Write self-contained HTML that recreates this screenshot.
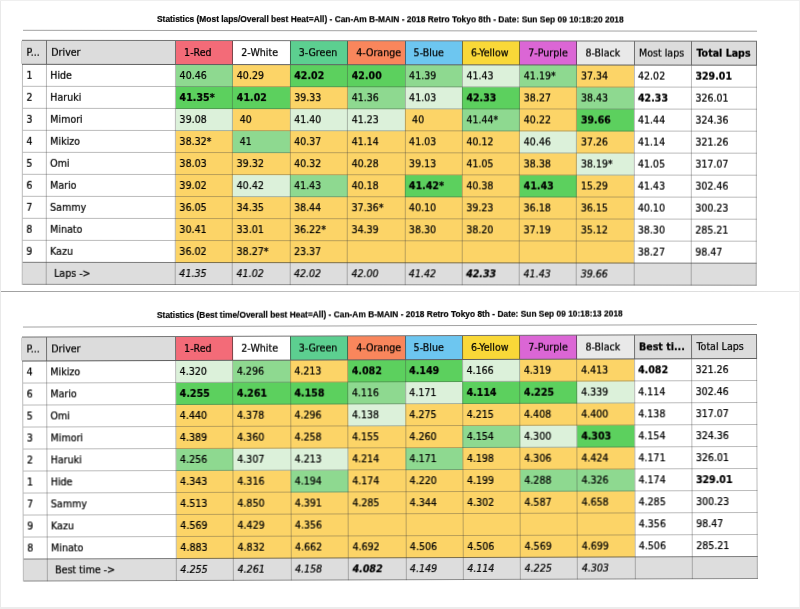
<!DOCTYPE html><html><head><meta charset="utf-8"><title>Statistics</title><style>
html,body{margin:0;padding:0;background:#fff;}
body{width:800px;height:609px;position:relative;overflow:hidden;font-family:"DejaVu Sans","Liberation Sans",sans-serif;color:#000;}
.sec{position:absolute;left:0;width:800px;height:292px;filter:blur(0.22px);transform-origin:180px 40px;}
.title{position:absolute;left:157px;top:14.2px;white-space:nowrap;transform:scaleX(0.931);transform-origin:0 0;font:bold 9px "Liberation Sans",Arial,sans-serif;color:#000;-webkit-text-stroke:0.2px #000;}
.rule{position:absolute;left:22.5px;top:30px;width:734px;height:1px;background:#a2a2a2;}
.c{position:absolute;box-sizing:border-box;white-space:nowrap;overflow:hidden;font-size:9.5px;line-height:22px;padding-left:4px;-webkit-text-stroke:0.22px #000;}
.h{line-height:24px;padding-left:5px;padding-top:0.6px;}
.hc{padding-left:8.5px;}
.h0{padding-left:5px;}
.f.lab{padding-left:8px;}
.c span{display:inline-block;transform:scaleY(1.05);transform-origin:50% 60%;}
.b{font-weight:bold;}
.i{font-style:italic;}
.hl{position:absolute;height:1px;background:rgba(60,60,60,0.35);}
.vl{position:absolute;width:1px;background:rgba(60,60,60,0.35);}
.vh{position:absolute;width:1px;background:rgba(40,40,40,0.6);}
.vh0{background:rgba(120,120,120,0.35);}
.hb{position:absolute;background:rgba(40,40,40,0.65);}
.fb{position:absolute;background:rgba(60,60,60,0.5);}
.hb2{position:absolute;background:rgba(40,40,40,0.75);}
.edge{position:absolute;}
</style></head><body>
<div class="sec" style="top:0px;transform:rotate(0.07deg)">
<div class="title">Statistics (Most laps/Overall best Heat=All) - Can-Am B-MAIN - 2018 Retro Tokyo 8th - Date: Sun Sep 09 10:18:20 2018</div>
<div class="rule"></div>
<div class="c h h0" style="left:21.50px;top:40.70px;width:24.80px;height:23.80px;background:#dcdcdc;"><span>P...</span></div>
<div class="c h" style="left:46.30px;top:40.70px;width:129.30px;height:23.80px;background:#dcdcdc;"><span>Driver</span></div>
<div class="c h hc" style="left:175.60px;top:40.70px;width:57.20px;height:23.80px;background:#f36b78;"><span>1-Red</span></div>
<div class="c h hc" style="left:232.80px;top:40.70px;width:57.40px;height:23.80px;background:#ffffff;"><span>2-White</span></div>
<div class="c h hc" style="left:290.20px;top:40.70px;width:57.50px;height:23.80px;background:#5ccf90;"><span>3-Green</span></div>
<div class="c h hc" style="left:347.70px;top:40.70px;width:57.40px;height:23.80px;background:#f9865c;"><span>4-Orange</span></div>
<div class="c h hc" style="left:405.10px;top:40.70px;width:57.30px;height:23.80px;background:#6dc6f0;"><span>5-Blue</span></div>
<div class="c h hc" style="left:462.40px;top:40.70px;width:57.40px;height:23.80px;background:#f9d838;"><span>6-Yellow</span></div>
<div class="c h hc" style="left:519.80px;top:40.70px;width:57.10px;height:23.80px;background:#db66d5;"><span>7-Purple</span></div>
<div class="c h hc" style="left:576.90px;top:40.70px;width:57.10px;height:23.80px;background:#e9e9e9;"><span>8-Black</span></div>
<div class="c h" style="left:634.00px;top:40.70px;width:57.40px;height:23.80px;background:#dcdcdc;"><span>Most laps</span></div>
<div class="c h b" style="left:691.40px;top:40.70px;width:65.20px;height:23.80px;background:#dcdcdc;"><span>Total Laps</span></div>
<div class="c" style="left:22.50px;top:64.50px;width:23.80px;height:22.00px;background:#fff;"><span>1</span></div>
<div class="c" style="left:46.30px;top:64.50px;width:129.30px;height:22.00px;background:#fff;"><span>Hide</span></div>
<div class="c" style="left:175.60px;top:64.50px;width:57.20px;height:22.00px;background:#8ed990;"><span>40.46</span></div>
<div class="c" style="left:232.80px;top:64.50px;width:57.40px;height:22.00px;background:#fcd467;"><span>40.29</span></div>
<div class="c b" style="left:290.20px;top:64.50px;width:57.50px;height:22.00px;background:#5cd05e;"><span>42.02</span></div>
<div class="c b" style="left:347.70px;top:64.50px;width:57.40px;height:22.00px;background:#5cd05e;"><span>42.00</span></div>
<div class="c" style="left:405.10px;top:64.50px;width:57.30px;height:22.00px;background:#8ed990;"><span>41.39</span></div>
<div class="c" style="left:462.40px;top:64.50px;width:57.40px;height:22.00px;background:#dcf1da;"><span>41.43</span></div>
<div class="c" style="left:519.80px;top:64.50px;width:57.10px;height:22.00px;background:#8ed990;"><span>41.19*</span></div>
<div class="c" style="left:576.90px;top:64.50px;width:57.10px;height:22.00px;background:#fcd467;"><span>37.34</span></div>
<div class="c" style="left:634.00px;top:64.50px;width:57.40px;height:22.00px;background:#fff;"><span>42.02</span></div>
<div class="c b" style="left:691.40px;top:64.50px;width:65.20px;height:22.00px;background:#fff;"><span>329.01</span></div>
<div class="c" style="left:22.50px;top:86.50px;width:23.80px;height:22.00px;background:#fff;"><span>2</span></div>
<div class="c" style="left:46.30px;top:86.50px;width:129.30px;height:22.00px;background:#fff;"><span>Haruki</span></div>
<div class="c b" style="left:175.60px;top:86.50px;width:57.20px;height:22.00px;background:#5cd05e;"><span>41.35*</span></div>
<div class="c b" style="left:232.80px;top:86.50px;width:57.40px;height:22.00px;background:#5cd05e;"><span>41.02</span></div>
<div class="c" style="left:290.20px;top:86.50px;width:57.50px;height:22.00px;background:#fcd467;"><span>39.33</span></div>
<div class="c" style="left:347.70px;top:86.50px;width:57.40px;height:22.00px;background:#8ed990;"><span>41.36</span></div>
<div class="c" style="left:405.10px;top:86.50px;width:57.30px;height:22.00px;background:#dcf1da;"><span>41.03</span></div>
<div class="c b" style="left:462.40px;top:86.50px;width:57.40px;height:22.00px;background:#5cd05e;"><span>42.33</span></div>
<div class="c" style="left:519.80px;top:86.50px;width:57.10px;height:22.00px;background:#fcd467;"><span>38.27</span></div>
<div class="c" style="left:576.90px;top:86.50px;width:57.10px;height:22.00px;background:#8ed990;"><span>38.43</span></div>
<div class="c b" style="left:634.00px;top:86.50px;width:57.40px;height:22.00px;background:#fff;"><span>42.33</span></div>
<div class="c" style="left:691.40px;top:86.50px;width:65.20px;height:22.00px;background:#fff;"><span>326.01</span></div>
<div class="c" style="left:22.50px;top:108.50px;width:23.80px;height:22.00px;background:#fff;"><span>3</span></div>
<div class="c" style="left:46.30px;top:108.50px;width:129.30px;height:22.00px;background:#fff;"><span>Mimori</span></div>
<div class="c" style="left:175.60px;top:108.50px;width:57.20px;height:22.00px;background:#dcf1da;"><span>39.08</span></div>
<div class="c" style="left:232.80px;top:108.50px;width:57.40px;height:22.00px;background:#fcd467;"><span> 40</span></div>
<div class="c" style="left:290.20px;top:108.50px;width:57.50px;height:22.00px;background:#dcf1da;"><span>41.40</span></div>
<div class="c" style="left:347.70px;top:108.50px;width:57.40px;height:22.00px;background:#dcf1da;"><span>41.23</span></div>
<div class="c" style="left:405.10px;top:108.50px;width:57.30px;height:22.00px;background:#fcd467;"><span> 40</span></div>
<div class="c" style="left:462.40px;top:108.50px;width:57.40px;height:22.00px;background:#8ed990;"><span>41.44*</span></div>
<div class="c" style="left:519.80px;top:108.50px;width:57.10px;height:22.00px;background:#fcd467;"><span>40.22</span></div>
<div class="c b" style="left:576.90px;top:108.50px;width:57.10px;height:22.00px;background:#5cd05e;"><span>39.66</span></div>
<div class="c" style="left:634.00px;top:108.50px;width:57.40px;height:22.00px;background:#fff;"><span>41.44</span></div>
<div class="c" style="left:691.40px;top:108.50px;width:65.20px;height:22.00px;background:#fff;"><span>324.36</span></div>
<div class="c" style="left:22.50px;top:130.50px;width:23.80px;height:22.00px;background:#fff;"><span>4</span></div>
<div class="c" style="left:46.30px;top:130.50px;width:129.30px;height:22.00px;background:#fff;"><span>Mikizo</span></div>
<div class="c" style="left:175.60px;top:130.50px;width:57.20px;height:22.00px;background:#fcd467;"><span>38.32*</span></div>
<div class="c" style="left:232.80px;top:130.50px;width:57.40px;height:22.00px;background:#8ed990;"><span> 41</span></div>
<div class="c" style="left:290.20px;top:130.50px;width:57.50px;height:22.00px;background:#fcd467;"><span>40.37</span></div>
<div class="c" style="left:347.70px;top:130.50px;width:57.40px;height:22.00px;background:#fcd467;"><span>41.14</span></div>
<div class="c" style="left:405.10px;top:130.50px;width:57.30px;height:22.00px;background:#fcd467;"><span>41.03</span></div>
<div class="c" style="left:462.40px;top:130.50px;width:57.40px;height:22.00px;background:#fcd467;"><span>40.12</span></div>
<div class="c" style="left:519.80px;top:130.50px;width:57.10px;height:22.00px;background:#dcf1da;"><span>40.46</span></div>
<div class="c" style="left:576.90px;top:130.50px;width:57.10px;height:22.00px;background:#fcd467;"><span>37.26</span></div>
<div class="c" style="left:634.00px;top:130.50px;width:57.40px;height:22.00px;background:#fff;"><span>41.14</span></div>
<div class="c" style="left:691.40px;top:130.50px;width:65.20px;height:22.00px;background:#fff;"><span>321.26</span></div>
<div class="c" style="left:22.50px;top:152.50px;width:23.80px;height:22.00px;background:#fff;"><span>5</span></div>
<div class="c" style="left:46.30px;top:152.50px;width:129.30px;height:22.00px;background:#fff;"><span>Omi</span></div>
<div class="c" style="left:175.60px;top:152.50px;width:57.20px;height:22.00px;background:#fcd467;"><span>38.03</span></div>
<div class="c" style="left:232.80px;top:152.50px;width:57.40px;height:22.00px;background:#fcd467;"><span>39.32</span></div>
<div class="c" style="left:290.20px;top:152.50px;width:57.50px;height:22.00px;background:#fcd467;"><span>40.32</span></div>
<div class="c" style="left:347.70px;top:152.50px;width:57.40px;height:22.00px;background:#fcd467;"><span>40.28</span></div>
<div class="c" style="left:405.10px;top:152.50px;width:57.30px;height:22.00px;background:#fcd467;"><span>39.13</span></div>
<div class="c" style="left:462.40px;top:152.50px;width:57.40px;height:22.00px;background:#fcd467;"><span>41.05</span></div>
<div class="c" style="left:519.80px;top:152.50px;width:57.10px;height:22.00px;background:#fcd467;"><span>38.38</span></div>
<div class="c" style="left:576.90px;top:152.50px;width:57.10px;height:22.00px;background:#dcf1da;"><span>38.19*</span></div>
<div class="c" style="left:634.00px;top:152.50px;width:57.40px;height:22.00px;background:#fff;"><span>41.05</span></div>
<div class="c" style="left:691.40px;top:152.50px;width:65.20px;height:22.00px;background:#fff;"><span>317.07</span></div>
<div class="c" style="left:22.50px;top:174.50px;width:23.80px;height:22.00px;background:#fff;"><span>6</span></div>
<div class="c" style="left:46.30px;top:174.50px;width:129.30px;height:22.00px;background:#fff;"><span>Mario</span></div>
<div class="c" style="left:175.60px;top:174.50px;width:57.20px;height:22.00px;background:#fcd467;"><span>39.02</span></div>
<div class="c" style="left:232.80px;top:174.50px;width:57.40px;height:22.00px;background:#dcf1da;"><span>40.42</span></div>
<div class="c" style="left:290.20px;top:174.50px;width:57.50px;height:22.00px;background:#8ed990;"><span>41.43</span></div>
<div class="c" style="left:347.70px;top:174.50px;width:57.40px;height:22.00px;background:#fcd467;"><span>40.18</span></div>
<div class="c b" style="left:405.10px;top:174.50px;width:57.30px;height:22.00px;background:#5cd05e;"><span>41.42*</span></div>
<div class="c" style="left:462.40px;top:174.50px;width:57.40px;height:22.00px;background:#fcd467;"><span>40.38</span></div>
<div class="c b" style="left:519.80px;top:174.50px;width:57.10px;height:22.00px;background:#5cd05e;"><span>41.43</span></div>
<div class="c" style="left:576.90px;top:174.50px;width:57.10px;height:22.00px;background:#fcd467;"><span>15.29</span></div>
<div class="c" style="left:634.00px;top:174.50px;width:57.40px;height:22.00px;background:#fff;"><span>41.43</span></div>
<div class="c" style="left:691.40px;top:174.50px;width:65.20px;height:22.00px;background:#fff;"><span>302.46</span></div>
<div class="c" style="left:22.50px;top:196.50px;width:23.80px;height:22.00px;background:#fff;"><span>7</span></div>
<div class="c" style="left:46.30px;top:196.50px;width:129.30px;height:22.00px;background:#fff;"><span>Sammy</span></div>
<div class="c" style="left:175.60px;top:196.50px;width:57.20px;height:22.00px;background:#fcd467;"><span>36.05</span></div>
<div class="c" style="left:232.80px;top:196.50px;width:57.40px;height:22.00px;background:#fcd467;"><span>34.35</span></div>
<div class="c" style="left:290.20px;top:196.50px;width:57.50px;height:22.00px;background:#fcd467;"><span>38.44</span></div>
<div class="c" style="left:347.70px;top:196.50px;width:57.40px;height:22.00px;background:#fcd467;"><span>37.36*</span></div>
<div class="c" style="left:405.10px;top:196.50px;width:57.30px;height:22.00px;background:#fcd467;"><span>40.10</span></div>
<div class="c" style="left:462.40px;top:196.50px;width:57.40px;height:22.00px;background:#fcd467;"><span>39.23</span></div>
<div class="c" style="left:519.80px;top:196.50px;width:57.10px;height:22.00px;background:#fcd467;"><span>36.18</span></div>
<div class="c" style="left:576.90px;top:196.50px;width:57.10px;height:22.00px;background:#fcd467;"><span>36.15</span></div>
<div class="c" style="left:634.00px;top:196.50px;width:57.40px;height:22.00px;background:#fff;"><span>40.10</span></div>
<div class="c" style="left:691.40px;top:196.50px;width:65.20px;height:22.00px;background:#fff;"><span>300.23</span></div>
<div class="c" style="left:22.50px;top:218.50px;width:23.80px;height:22.00px;background:#fff;"><span>8</span></div>
<div class="c" style="left:46.30px;top:218.50px;width:129.30px;height:22.00px;background:#fff;"><span>Minato</span></div>
<div class="c" style="left:175.60px;top:218.50px;width:57.20px;height:22.00px;background:#fcd467;"><span>30.41</span></div>
<div class="c" style="left:232.80px;top:218.50px;width:57.40px;height:22.00px;background:#fcd467;"><span>33.01</span></div>
<div class="c" style="left:290.20px;top:218.50px;width:57.50px;height:22.00px;background:#fcd467;"><span>36.22*</span></div>
<div class="c" style="left:347.70px;top:218.50px;width:57.40px;height:22.00px;background:#fcd467;"><span>34.39</span></div>
<div class="c" style="left:405.10px;top:218.50px;width:57.30px;height:22.00px;background:#fcd467;"><span>38.30</span></div>
<div class="c" style="left:462.40px;top:218.50px;width:57.40px;height:22.00px;background:#fcd467;"><span>38.20</span></div>
<div class="c" style="left:519.80px;top:218.50px;width:57.10px;height:22.00px;background:#fcd467;"><span>37.19</span></div>
<div class="c" style="left:576.90px;top:218.50px;width:57.10px;height:22.00px;background:#fcd467;"><span>35.12</span></div>
<div class="c" style="left:634.00px;top:218.50px;width:57.40px;height:22.00px;background:#fff;"><span>38.30</span></div>
<div class="c" style="left:691.40px;top:218.50px;width:65.20px;height:22.00px;background:#fff;"><span>285.21</span></div>
<div class="c" style="left:22.50px;top:240.50px;width:23.80px;height:22.00px;background:#fff;"><span>9</span></div>
<div class="c" style="left:46.30px;top:240.50px;width:129.30px;height:22.00px;background:#fff;"><span>Kazu</span></div>
<div class="c" style="left:175.60px;top:240.50px;width:57.20px;height:22.00px;background:#fcd467;"><span>36.02</span></div>
<div class="c" style="left:232.80px;top:240.50px;width:57.40px;height:22.00px;background:#fcd467;"><span>38.27*</span></div>
<div class="c" style="left:290.20px;top:240.50px;width:57.50px;height:22.00px;background:#fcd467;"><span>23.37</span></div>
<div class="c" style="left:347.70px;top:240.50px;width:57.40px;height:22.00px;background:#fcd467;"></div>
<div class="c" style="left:405.10px;top:240.50px;width:57.30px;height:22.00px;background:#fcd467;"></div>
<div class="c" style="left:462.40px;top:240.50px;width:57.40px;height:22.00px;background:#fcd467;"></div>
<div class="c" style="left:519.80px;top:240.50px;width:57.10px;height:22.00px;background:#fcd467;"></div>
<div class="c" style="left:576.90px;top:240.50px;width:57.10px;height:22.00px;background:#fcd467;"></div>
<div class="c" style="left:634.00px;top:240.50px;width:57.40px;height:22.00px;background:#fff;"><span>38.27</span></div>
<div class="c" style="left:691.40px;top:240.50px;width:65.20px;height:22.00px;background:#fff;"><span>98.47</span></div>
<div class="c f" style="left:22.50px;top:262.50px;width:23.80px;height:22.00px;background:#dddddd;"></div>
<div class="c f lab" style="left:46.30px;top:262.50px;width:129.30px;height:22.00px;background:#dddddd;"><span>Laps -&gt;</span></div>
<div class="c f i" style="left:175.60px;top:262.50px;width:57.20px;height:22.00px;background:#dddddd;"><span>41.35</span></div>
<div class="c f i" style="left:232.80px;top:262.50px;width:57.40px;height:22.00px;background:#dddddd;"><span>41.02</span></div>
<div class="c f i" style="left:290.20px;top:262.50px;width:57.50px;height:22.00px;background:#dddddd;"><span>42.02</span></div>
<div class="c f i" style="left:347.70px;top:262.50px;width:57.40px;height:22.00px;background:#dddddd;"><span>42.00</span></div>
<div class="c f i" style="left:405.10px;top:262.50px;width:57.30px;height:22.00px;background:#dddddd;"><span>41.42</span></div>
<div class="c f b i" style="left:462.40px;top:262.50px;width:57.40px;height:22.00px;background:#dddddd;"><span>42.33</span></div>
<div class="c f i" style="left:519.80px;top:262.50px;width:57.10px;height:22.00px;background:#dddddd;"><span>41.43</span></div>
<div class="c f i" style="left:576.90px;top:262.50px;width:57.10px;height:22.00px;background:#dddddd;"><span>39.66</span></div>
<div class="c f" style="left:634.00px;top:262.50px;width:57.40px;height:22.00px;background:#dddddd;"></div>
<div class="c f" style="left:691.40px;top:262.50px;width:65.20px;height:22.00px;background:#dddddd;"></div>
<div class="hl" style="left:22.50px;top:86.00px;width:734.10px"></div>
<div class="hl" style="left:22.50px;top:108.00px;width:734.10px"></div>
<div class="hl" style="left:22.50px;top:130.00px;width:734.10px"></div>
<div class="hl" style="left:22.50px;top:152.00px;width:734.10px"></div>
<div class="hl" style="left:22.50px;top:174.00px;width:734.10px"></div>
<div class="hl" style="left:22.50px;top:196.00px;width:734.10px"></div>
<div class="hl" style="left:22.50px;top:218.00px;width:734.10px"></div>
<div class="hl" style="left:22.50px;top:240.00px;width:734.10px"></div>
<div class="hl" style="left:22.50px;top:262.00px;width:734.10px"></div>
<div class="hb" style="left:21.50px;top:40.20px;width:735.10px;height:1px"></div>
<div class="hb2" style="left:21.50px;top:63.50px;width:735.10px;height:1.6px"></div>
<div class="fb" style="left:22.50px;top:262.00px;width:734.10px;height:1px"></div>
<div class="fb" style="left:22.50px;top:284.00px;width:734.10px;height:1px"></div>
<div class="vl" style="left:22.00px;top:64.50px;height:220.00px"></div>
<div class="vh vh0" style="left:21.00px;top:40.70px;height:23.80px"></div>
<div class="vl" style="left:45.80px;top:64.50px;height:220.00px"></div>
<div class="vh" style="left:45.80px;top:40.70px;height:23.80px"></div>
<div class="vl" style="left:175.10px;top:64.50px;height:220.00px"></div>
<div class="vh" style="left:175.10px;top:40.70px;height:23.80px"></div>
<div class="vl" style="left:232.30px;top:64.50px;height:220.00px"></div>
<div class="vh" style="left:232.30px;top:40.70px;height:23.80px"></div>
<div class="vl" style="left:289.70px;top:64.50px;height:220.00px"></div>
<div class="vh" style="left:289.70px;top:40.70px;height:23.80px"></div>
<div class="vl" style="left:347.20px;top:64.50px;height:220.00px"></div>
<div class="vh" style="left:347.20px;top:40.70px;height:23.80px"></div>
<div class="vl" style="left:404.60px;top:64.50px;height:220.00px"></div>
<div class="vh" style="left:404.60px;top:40.70px;height:23.80px"></div>
<div class="vl" style="left:461.90px;top:64.50px;height:220.00px"></div>
<div class="vh" style="left:461.90px;top:40.70px;height:23.80px"></div>
<div class="vl" style="left:519.30px;top:64.50px;height:220.00px"></div>
<div class="vh" style="left:519.30px;top:40.70px;height:23.80px"></div>
<div class="vl" style="left:576.40px;top:64.50px;height:220.00px"></div>
<div class="vh" style="left:576.40px;top:40.70px;height:23.80px"></div>
<div class="vl" style="left:633.50px;top:64.50px;height:220.00px"></div>
<div class="vh" style="left:633.50px;top:40.70px;height:23.80px"></div>
<div class="vl" style="left:690.90px;top:64.50px;height:220.00px"></div>
<div class="vh" style="left:690.90px;top:40.70px;height:23.80px"></div>
<div class="vl" style="left:756.10px;top:64.50px;height:220.00px"></div>
<div class="vh" style="left:756.10px;top:40.70px;height:23.80px"></div>
</div>
<div class="sec" style="top:296px;transform:rotate(-0.2deg)">
<div class="title">Statistics (Best time/Overall best Heat=All) - Can-Am B-MAIN - 2018 Retro Tokyo 8th - Date: Sun Sep 09 10:18:13 2018</div>
<div class="rule"></div>
<div class="c h h0" style="left:21.50px;top:40.70px;width:24.80px;height:23.80px;background:#dcdcdc;"><span>P...</span></div>
<div class="c h" style="left:46.30px;top:40.70px;width:129.30px;height:23.80px;background:#dcdcdc;"><span>Driver</span></div>
<div class="c h hc" style="left:175.60px;top:40.70px;width:57.20px;height:23.80px;background:#f36b78;"><span>1-Red</span></div>
<div class="c h hc" style="left:232.80px;top:40.70px;width:57.40px;height:23.80px;background:#ffffff;"><span>2-White</span></div>
<div class="c h hc" style="left:290.20px;top:40.70px;width:57.50px;height:23.80px;background:#5ccf90;"><span>3-Green</span></div>
<div class="c h hc" style="left:347.70px;top:40.70px;width:57.40px;height:23.80px;background:#f9865c;"><span>4-Orange</span></div>
<div class="c h hc" style="left:405.10px;top:40.70px;width:57.30px;height:23.80px;background:#6dc6f0;"><span>5-Blue</span></div>
<div class="c h hc" style="left:462.40px;top:40.70px;width:57.40px;height:23.80px;background:#f9d838;"><span>6-Yellow</span></div>
<div class="c h hc" style="left:519.80px;top:40.70px;width:57.10px;height:23.80px;background:#db66d5;"><span>7-Purple</span></div>
<div class="c h hc" style="left:576.90px;top:40.70px;width:57.10px;height:23.80px;background:#e9e9e9;"><span>8-Black</span></div>
<div class="c h b" style="left:634.00px;top:40.70px;width:57.40px;height:23.80px;background:#dcdcdc;"><span>Best ti...</span></div>
<div class="c h" style="left:691.40px;top:40.70px;width:65.20px;height:23.80px;background:#dcdcdc;"><span>Total Laps</span></div>
<div class="c" style="left:22.50px;top:64.50px;width:23.80px;height:22.00px;background:#fff;"><span>4</span></div>
<div class="c" style="left:46.30px;top:64.50px;width:129.30px;height:22.00px;background:#fff;"><span>Mikizo</span></div>
<div class="c" style="left:175.60px;top:64.50px;width:57.20px;height:22.00px;background:#dcf1da;"><span>4.320</span></div>
<div class="c" style="left:232.80px;top:64.50px;width:57.40px;height:22.00px;background:#8ed990;"><span>4.296</span></div>
<div class="c" style="left:290.20px;top:64.50px;width:57.50px;height:22.00px;background:#fcd467;"><span>4.213</span></div>
<div class="c b" style="left:347.70px;top:64.50px;width:57.40px;height:22.00px;background:#5cd05e;"><span>4.082</span></div>
<div class="c b" style="left:405.10px;top:64.50px;width:57.30px;height:22.00px;background:#5cd05e;"><span>4.149</span></div>
<div class="c" style="left:462.40px;top:64.50px;width:57.40px;height:22.00px;background:#dcf1da;"><span>4.166</span></div>
<div class="c" style="left:519.80px;top:64.50px;width:57.10px;height:22.00px;background:#fcd467;"><span>4.319</span></div>
<div class="c" style="left:576.90px;top:64.50px;width:57.10px;height:22.00px;background:#fcd467;"><span>4.413</span></div>
<div class="c b" style="left:634.00px;top:64.50px;width:57.40px;height:22.00px;background:#fff;"><span>4.082</span></div>
<div class="c" style="left:691.40px;top:64.50px;width:65.20px;height:22.00px;background:#fff;"><span>321.26</span></div>
<div class="c" style="left:22.50px;top:86.50px;width:23.80px;height:22.00px;background:#fff;"><span>6</span></div>
<div class="c" style="left:46.30px;top:86.50px;width:129.30px;height:22.00px;background:#fff;"><span>Mario</span></div>
<div class="c b" style="left:175.60px;top:86.50px;width:57.20px;height:22.00px;background:#5cd05e;"><span>4.255</span></div>
<div class="c b" style="left:232.80px;top:86.50px;width:57.40px;height:22.00px;background:#5cd05e;"><span>4.261</span></div>
<div class="c b" style="left:290.20px;top:86.50px;width:57.50px;height:22.00px;background:#5cd05e;"><span>4.158</span></div>
<div class="c" style="left:347.70px;top:86.50px;width:57.40px;height:22.00px;background:#8ed990;"><span>4.116</span></div>
<div class="c" style="left:405.10px;top:86.50px;width:57.30px;height:22.00px;background:#dcf1da;"><span>4.171</span></div>
<div class="c b" style="left:462.40px;top:86.50px;width:57.40px;height:22.00px;background:#5cd05e;"><span>4.114</span></div>
<div class="c b" style="left:519.80px;top:86.50px;width:57.10px;height:22.00px;background:#5cd05e;"><span>4.225</span></div>
<div class="c" style="left:576.90px;top:86.50px;width:57.10px;height:22.00px;background:#dcf1da;"><span>4.339</span></div>
<div class="c" style="left:634.00px;top:86.50px;width:57.40px;height:22.00px;background:#fff;"><span>4.114</span></div>
<div class="c" style="left:691.40px;top:86.50px;width:65.20px;height:22.00px;background:#fff;"><span>302.46</span></div>
<div class="c" style="left:22.50px;top:108.50px;width:23.80px;height:22.00px;background:#fff;"><span>5</span></div>
<div class="c" style="left:46.30px;top:108.50px;width:129.30px;height:22.00px;background:#fff;"><span>Omi</span></div>
<div class="c" style="left:175.60px;top:108.50px;width:57.20px;height:22.00px;background:#fcd467;"><span>4.440</span></div>
<div class="c" style="left:232.80px;top:108.50px;width:57.40px;height:22.00px;background:#fcd467;"><span>4.378</span></div>
<div class="c" style="left:290.20px;top:108.50px;width:57.50px;height:22.00px;background:#fcd467;"><span>4.296</span></div>
<div class="c" style="left:347.70px;top:108.50px;width:57.40px;height:22.00px;background:#dcf1da;"><span>4.138</span></div>
<div class="c" style="left:405.10px;top:108.50px;width:57.30px;height:22.00px;background:#fcd467;"><span>4.275</span></div>
<div class="c" style="left:462.40px;top:108.50px;width:57.40px;height:22.00px;background:#fcd467;"><span>4.215</span></div>
<div class="c" style="left:519.80px;top:108.50px;width:57.10px;height:22.00px;background:#fcd467;"><span>4.408</span></div>
<div class="c" style="left:576.90px;top:108.50px;width:57.10px;height:22.00px;background:#fcd467;"><span>4.400</span></div>
<div class="c" style="left:634.00px;top:108.50px;width:57.40px;height:22.00px;background:#fff;"><span>4.138</span></div>
<div class="c" style="left:691.40px;top:108.50px;width:65.20px;height:22.00px;background:#fff;"><span>317.07</span></div>
<div class="c" style="left:22.50px;top:130.50px;width:23.80px;height:22.00px;background:#fff;"><span>3</span></div>
<div class="c" style="left:46.30px;top:130.50px;width:129.30px;height:22.00px;background:#fff;"><span>Mimori</span></div>
<div class="c" style="left:175.60px;top:130.50px;width:57.20px;height:22.00px;background:#fcd467;"><span>4.389</span></div>
<div class="c" style="left:232.80px;top:130.50px;width:57.40px;height:22.00px;background:#fcd467;"><span>4.360</span></div>
<div class="c" style="left:290.20px;top:130.50px;width:57.50px;height:22.00px;background:#fcd467;"><span>4.258</span></div>
<div class="c" style="left:347.70px;top:130.50px;width:57.40px;height:22.00px;background:#fcd467;"><span>4.155</span></div>
<div class="c" style="left:405.10px;top:130.50px;width:57.30px;height:22.00px;background:#fcd467;"><span>4.260</span></div>
<div class="c" style="left:462.40px;top:130.50px;width:57.40px;height:22.00px;background:#8ed990;"><span>4.154</span></div>
<div class="c" style="left:519.80px;top:130.50px;width:57.10px;height:22.00px;background:#dcf1da;"><span>4.300</span></div>
<div class="c b" style="left:576.90px;top:130.50px;width:57.10px;height:22.00px;background:#5cd05e;"><span>4.303</span></div>
<div class="c" style="left:634.00px;top:130.50px;width:57.40px;height:22.00px;background:#fff;"><span>4.154</span></div>
<div class="c" style="left:691.40px;top:130.50px;width:65.20px;height:22.00px;background:#fff;"><span>324.36</span></div>
<div class="c" style="left:22.50px;top:152.50px;width:23.80px;height:22.00px;background:#fff;"><span>2</span></div>
<div class="c" style="left:46.30px;top:152.50px;width:129.30px;height:22.00px;background:#fff;"><span>Haruki</span></div>
<div class="c" style="left:175.60px;top:152.50px;width:57.20px;height:22.00px;background:#8ed990;"><span>4.256</span></div>
<div class="c" style="left:232.80px;top:152.50px;width:57.40px;height:22.00px;background:#dcf1da;"><span>4.307</span></div>
<div class="c" style="left:290.20px;top:152.50px;width:57.50px;height:22.00px;background:#dcf1da;"><span>4.213</span></div>
<div class="c" style="left:347.70px;top:152.50px;width:57.40px;height:22.00px;background:#fcd467;"><span>4.214</span></div>
<div class="c" style="left:405.10px;top:152.50px;width:57.30px;height:22.00px;background:#8ed990;"><span>4.171</span></div>
<div class="c" style="left:462.40px;top:152.50px;width:57.40px;height:22.00px;background:#fcd467;"><span>4.198</span></div>
<div class="c" style="left:519.80px;top:152.50px;width:57.10px;height:22.00px;background:#fcd467;"><span>4.306</span></div>
<div class="c" style="left:576.90px;top:152.50px;width:57.10px;height:22.00px;background:#fcd467;"><span>4.424</span></div>
<div class="c" style="left:634.00px;top:152.50px;width:57.40px;height:22.00px;background:#fff;"><span>4.171</span></div>
<div class="c" style="left:691.40px;top:152.50px;width:65.20px;height:22.00px;background:#fff;"><span>326.01</span></div>
<div class="c" style="left:22.50px;top:174.50px;width:23.80px;height:22.00px;background:#fff;"><span>1</span></div>
<div class="c" style="left:46.30px;top:174.50px;width:129.30px;height:22.00px;background:#fff;"><span>Hide</span></div>
<div class="c" style="left:175.60px;top:174.50px;width:57.20px;height:22.00px;background:#fcd467;"><span>4.343</span></div>
<div class="c" style="left:232.80px;top:174.50px;width:57.40px;height:22.00px;background:#fcd467;"><span>4.316</span></div>
<div class="c" style="left:290.20px;top:174.50px;width:57.50px;height:22.00px;background:#8ed990;"><span>4.194</span></div>
<div class="c" style="left:347.70px;top:174.50px;width:57.40px;height:22.00px;background:#fcd467;"><span>4.174</span></div>
<div class="c" style="left:405.10px;top:174.50px;width:57.30px;height:22.00px;background:#fcd467;"><span>4.220</span></div>
<div class="c" style="left:462.40px;top:174.50px;width:57.40px;height:22.00px;background:#fcd467;"><span>4.199</span></div>
<div class="c" style="left:519.80px;top:174.50px;width:57.10px;height:22.00px;background:#8ed990;"><span>4.288</span></div>
<div class="c" style="left:576.90px;top:174.50px;width:57.10px;height:22.00px;background:#8ed990;"><span>4.326</span></div>
<div class="c" style="left:634.00px;top:174.50px;width:57.40px;height:22.00px;background:#fff;"><span>4.174</span></div>
<div class="c b" style="left:691.40px;top:174.50px;width:65.20px;height:22.00px;background:#fff;"><span>329.01</span></div>
<div class="c" style="left:22.50px;top:196.50px;width:23.80px;height:22.00px;background:#fff;"><span>7</span></div>
<div class="c" style="left:46.30px;top:196.50px;width:129.30px;height:22.00px;background:#fff;"><span>Sammy</span></div>
<div class="c" style="left:175.60px;top:196.50px;width:57.20px;height:22.00px;background:#fcd467;"><span>4.513</span></div>
<div class="c" style="left:232.80px;top:196.50px;width:57.40px;height:22.00px;background:#fcd467;"><span>4.850</span></div>
<div class="c" style="left:290.20px;top:196.50px;width:57.50px;height:22.00px;background:#fcd467;"><span>4.391</span></div>
<div class="c" style="left:347.70px;top:196.50px;width:57.40px;height:22.00px;background:#fcd467;"><span>4.285</span></div>
<div class="c" style="left:405.10px;top:196.50px;width:57.30px;height:22.00px;background:#fcd467;"><span>4.344</span></div>
<div class="c" style="left:462.40px;top:196.50px;width:57.40px;height:22.00px;background:#fcd467;"><span>4.302</span></div>
<div class="c" style="left:519.80px;top:196.50px;width:57.10px;height:22.00px;background:#fcd467;"><span>4.587</span></div>
<div class="c" style="left:576.90px;top:196.50px;width:57.10px;height:22.00px;background:#fcd467;"><span>4.658</span></div>
<div class="c" style="left:634.00px;top:196.50px;width:57.40px;height:22.00px;background:#fff;"><span>4.285</span></div>
<div class="c" style="left:691.40px;top:196.50px;width:65.20px;height:22.00px;background:#fff;"><span>300.23</span></div>
<div class="c" style="left:22.50px;top:218.50px;width:23.80px;height:22.00px;background:#fff;"><span>9</span></div>
<div class="c" style="left:46.30px;top:218.50px;width:129.30px;height:22.00px;background:#fff;"><span>Kazu</span></div>
<div class="c" style="left:175.60px;top:218.50px;width:57.20px;height:22.00px;background:#fcd467;"><span>4.569</span></div>
<div class="c" style="left:232.80px;top:218.50px;width:57.40px;height:22.00px;background:#fcd467;"><span>4.429</span></div>
<div class="c" style="left:290.20px;top:218.50px;width:57.50px;height:22.00px;background:#fcd467;"><span>4.356</span></div>
<div class="c" style="left:347.70px;top:218.50px;width:57.40px;height:22.00px;background:#fcd467;"></div>
<div class="c" style="left:405.10px;top:218.50px;width:57.30px;height:22.00px;background:#fcd467;"></div>
<div class="c" style="left:462.40px;top:218.50px;width:57.40px;height:22.00px;background:#fcd467;"></div>
<div class="c" style="left:519.80px;top:218.50px;width:57.10px;height:22.00px;background:#fcd467;"></div>
<div class="c" style="left:576.90px;top:218.50px;width:57.10px;height:22.00px;background:#fcd467;"></div>
<div class="c" style="left:634.00px;top:218.50px;width:57.40px;height:22.00px;background:#fff;"><span>4.356</span></div>
<div class="c" style="left:691.40px;top:218.50px;width:65.20px;height:22.00px;background:#fff;"><span>98.47</span></div>
<div class="c" style="left:22.50px;top:240.50px;width:23.80px;height:22.00px;background:#fff;"><span>8</span></div>
<div class="c" style="left:46.30px;top:240.50px;width:129.30px;height:22.00px;background:#fff;"><span>Minato</span></div>
<div class="c" style="left:175.60px;top:240.50px;width:57.20px;height:22.00px;background:#fcd467;"><span>4.883</span></div>
<div class="c" style="left:232.80px;top:240.50px;width:57.40px;height:22.00px;background:#fcd467;"><span>4.832</span></div>
<div class="c" style="left:290.20px;top:240.50px;width:57.50px;height:22.00px;background:#fcd467;"><span>4.662</span></div>
<div class="c" style="left:347.70px;top:240.50px;width:57.40px;height:22.00px;background:#fcd467;"><span>4.692</span></div>
<div class="c" style="left:405.10px;top:240.50px;width:57.30px;height:22.00px;background:#fcd467;"><span>4.506</span></div>
<div class="c" style="left:462.40px;top:240.50px;width:57.40px;height:22.00px;background:#fcd467;"><span>4.506</span></div>
<div class="c" style="left:519.80px;top:240.50px;width:57.10px;height:22.00px;background:#fcd467;"><span>4.569</span></div>
<div class="c" style="left:576.90px;top:240.50px;width:57.10px;height:22.00px;background:#fcd467;"><span>4.699</span></div>
<div class="c" style="left:634.00px;top:240.50px;width:57.40px;height:22.00px;background:#fff;"><span>4.506</span></div>
<div class="c" style="left:691.40px;top:240.50px;width:65.20px;height:22.00px;background:#fff;"><span>285.21</span></div>
<div class="c f" style="left:22.50px;top:262.50px;width:23.80px;height:22.00px;background:#dddddd;"></div>
<div class="c f lab" style="left:46.30px;top:262.50px;width:129.30px;height:22.00px;background:#dddddd;"><span>Best time -&gt;</span></div>
<div class="c f i" style="left:175.60px;top:262.50px;width:57.20px;height:22.00px;background:#dddddd;"><span>4.255</span></div>
<div class="c f i" style="left:232.80px;top:262.50px;width:57.40px;height:22.00px;background:#dddddd;"><span>4.261</span></div>
<div class="c f i" style="left:290.20px;top:262.50px;width:57.50px;height:22.00px;background:#dddddd;"><span>4.158</span></div>
<div class="c f b i" style="left:347.70px;top:262.50px;width:57.40px;height:22.00px;background:#dddddd;"><span>4.082</span></div>
<div class="c f i" style="left:405.10px;top:262.50px;width:57.30px;height:22.00px;background:#dddddd;"><span>4.149</span></div>
<div class="c f i" style="left:462.40px;top:262.50px;width:57.40px;height:22.00px;background:#dddddd;"><span>4.114</span></div>
<div class="c f i" style="left:519.80px;top:262.50px;width:57.10px;height:22.00px;background:#dddddd;"><span>4.225</span></div>
<div class="c f i" style="left:576.90px;top:262.50px;width:57.10px;height:22.00px;background:#dddddd;"><span>4.303</span></div>
<div class="c f" style="left:634.00px;top:262.50px;width:57.40px;height:22.00px;background:#dddddd;"></div>
<div class="c f" style="left:691.40px;top:262.50px;width:65.20px;height:22.00px;background:#dddddd;"></div>
<div class="hl" style="left:22.50px;top:86.00px;width:734.10px"></div>
<div class="hl" style="left:22.50px;top:108.00px;width:734.10px"></div>
<div class="hl" style="left:22.50px;top:130.00px;width:734.10px"></div>
<div class="hl" style="left:22.50px;top:152.00px;width:734.10px"></div>
<div class="hl" style="left:22.50px;top:174.00px;width:734.10px"></div>
<div class="hl" style="left:22.50px;top:196.00px;width:734.10px"></div>
<div class="hl" style="left:22.50px;top:218.00px;width:734.10px"></div>
<div class="hl" style="left:22.50px;top:240.00px;width:734.10px"></div>
<div class="hl" style="left:22.50px;top:262.00px;width:734.10px"></div>
<div class="hb" style="left:21.50px;top:40.20px;width:735.10px;height:1px"></div>
<div class="hb2" style="left:21.50px;top:63.50px;width:735.10px;height:1.6px"></div>
<div class="fb" style="left:22.50px;top:262.00px;width:734.10px;height:1px"></div>
<div class="fb" style="left:22.50px;top:284.00px;width:734.10px;height:1px"></div>
<div class="vl" style="left:22.00px;top:64.50px;height:220.00px"></div>
<div class="vh vh0" style="left:21.00px;top:40.70px;height:23.80px"></div>
<div class="vl" style="left:45.80px;top:64.50px;height:220.00px"></div>
<div class="vh" style="left:45.80px;top:40.70px;height:23.80px"></div>
<div class="vl" style="left:175.10px;top:64.50px;height:220.00px"></div>
<div class="vh" style="left:175.10px;top:40.70px;height:23.80px"></div>
<div class="vl" style="left:232.30px;top:64.50px;height:220.00px"></div>
<div class="vh" style="left:232.30px;top:40.70px;height:23.80px"></div>
<div class="vl" style="left:289.70px;top:64.50px;height:220.00px"></div>
<div class="vh" style="left:289.70px;top:40.70px;height:23.80px"></div>
<div class="vl" style="left:347.20px;top:64.50px;height:220.00px"></div>
<div class="vh" style="left:347.20px;top:40.70px;height:23.80px"></div>
<div class="vl" style="left:404.60px;top:64.50px;height:220.00px"></div>
<div class="vh" style="left:404.60px;top:40.70px;height:23.80px"></div>
<div class="vl" style="left:461.90px;top:64.50px;height:220.00px"></div>
<div class="vh" style="left:461.90px;top:40.70px;height:23.80px"></div>
<div class="vl" style="left:519.30px;top:64.50px;height:220.00px"></div>
<div class="vh" style="left:519.30px;top:40.70px;height:23.80px"></div>
<div class="vl" style="left:576.40px;top:64.50px;height:220.00px"></div>
<div class="vh" style="left:576.40px;top:40.70px;height:23.80px"></div>
<div class="vl" style="left:633.50px;top:64.50px;height:220.00px"></div>
<div class="vh" style="left:633.50px;top:40.70px;height:23.80px"></div>
<div class="vl" style="left:690.90px;top:64.50px;height:220.00px"></div>
<div class="vh" style="left:690.90px;top:40.70px;height:23.80px"></div>
<div class="vl" style="left:756.10px;top:64.50px;height:220.00px"></div>
<div class="vh" style="left:756.10px;top:40.70px;height:23.80px"></div>
</div>
<div class="edge" style="left:0;top:291px;width:800px;height:1px;background:linear-gradient(90deg,#a0a0a0,#c8c8c8 50%,#e6e6e6)"></div>
<div class="edge" style="left:0;top:0;width:1.2px;height:609px;background:#e9e9e9"></div>
<div class="edge" style="left:799px;top:0;width:1px;height:609px;background:#f1f1f1"></div>
<div class="edge" style="left:0;top:0;width:800px;height:1px;background:#efefef"></div>
<div class="edge" style="left:0;top:607px;width:800px;height:2px;background:#ececec"></div>
</body></html>
